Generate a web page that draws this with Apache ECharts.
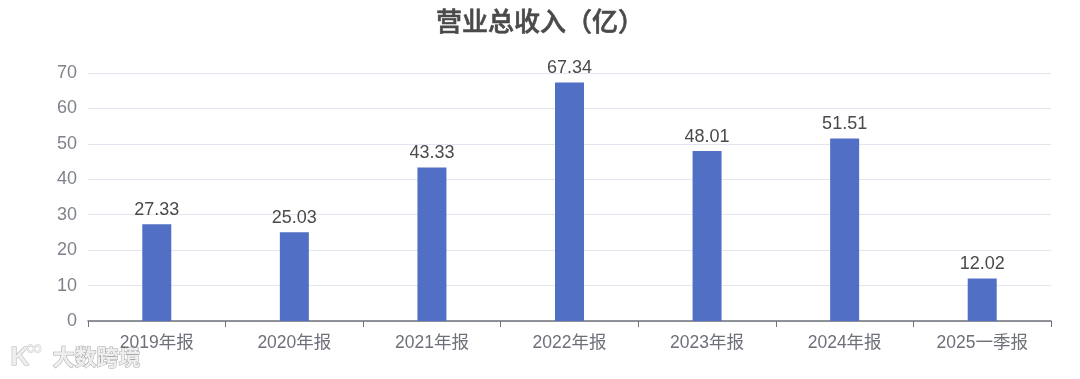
<!DOCTYPE html>
<html><head><meta charset="utf-8">
<style>html,body{margin:0;padding:0;background:#fff}#c{width:1080px;height:379px}</style>
<script src="https://cdn.jsdelivr.net/npm/echarts@6/dist/echarts.min.js"></script>
</head><body><div id="c"></div>
<script>
const categories=['2019年报','2020年报','2021年报','2022年报','2023年报','2024年报','2025一季报'];
const revenue=[27.33,25.03,43.33,67.34,48.01,51.51,12.02];
const titleText='营业总收入（亿）';
const watermark='大数跨境';
const font='"Noto Sans CJK SC","Liberation Sans",sans-serif';
const numFont='"Liberation Sans","Noto Sans CJK SC",sans-serif';
const chart=echarts.init(document.getElementById('c'),null,{renderer:'canvas'});
chart.setOption({
  animation:false,
  title:{text:titleText,left:'center',top:3,textStyle:{fontFamily:font,fontSize:26,fontWeight:500,color:'#4a4a4a',textBorderColor:'#4a4a4a',textBorderWidth:0.6}},
  grid:{left:88,right:29,top:73,bottom:58},
  xAxis:{type:'category',data:categories,boundaryGap:true,
    axisLine:{lineStyle:{color:'#6e7079',width:1.5}},
    axisTick:{show:true,alignWithLabel:false,length:6,lineStyle:{color:'#6e7079'}},
    axisLabel:{fontFamily:numFont,fontSize:17.5,color:'#6e7079',margin:13,interval:0}},
  yAxis:{type:'value',min:0,max:70,interval:10,
    axisLine:{show:false},axisTick:{show:false},
    axisLabel:{fontFamily:numFont,fontSize:18,color:'#7f828a',margin:11},
    splitLine:{lineStyle:{color:'#e3e6ee',width:1}}},
  series:[{type:'bar',data:revenue,barWidth:29,itemStyle:{color:'#516fc5'},
    label:{show:true,position:'top',distance:5,fontFamily:numFont,fontSize:18,color:'#4a4a4a',formatter:p=>p.value.toFixed(2)}}],
  graphic:[
    {type:'text',left:52,top:345,style:{text:watermark,fontFamily:font,fontSize:22,fontWeight:'bold',fill:'#eeeeee',stroke:'#a8a8a8',lineWidth:1}},
    {type:'text',left:10,top:344,style:{text:'K',fontFamily:numFont,fontSize:26,fontWeight:'bold',fill:'#eeeeee',stroke:'#b0b0b0',lineWidth:1}},
    {type:'text',left:26,top:338,style:{text:'∞',fontFamily:numFont,fontSize:22,fill:'#eeeeee',stroke:'#b0b0b0',lineWidth:0.6}}
  ]
});
</script></body></html>
